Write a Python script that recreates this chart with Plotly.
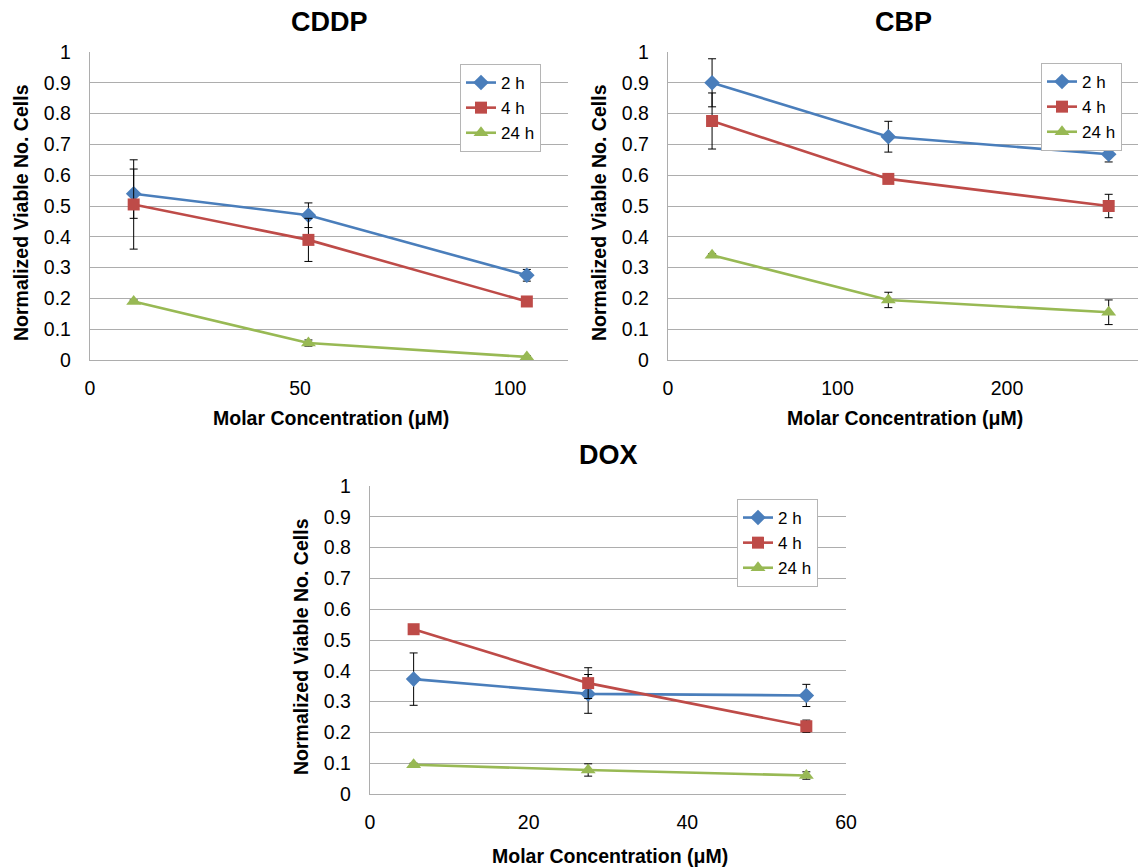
import plotly.graph_objects as go

# ---- data -------------------------------------------------------------
series_names = ["2 h", "4 h", "24 h"]

cddp_conc = [10.4, 52, 104]
cddp_2h = [0.54, 0.47, 0.275]
cddp_2h_err = [0.08, 0.04, 0.019]
cddp_4h = [0.505, 0.39, 0.19]
cddp_4h_err = [0.145, 0.07, 0.008]
cddp_24h = [0.19, 0.055, 0.01]
cddp_24h_err = [0.005, 0.01, 0.004]

cbp_conc = [26, 130, 260]
cbp_2h = [0.90, 0.725, 0.668]
cbp_2h_err = [0.078, 0.05, 0.025]
cbp_4h = [0.776, 0.588, 0.50]
cbp_4h_err = [0.091, 0.01, 0.038]
cbp_24h = [0.34, 0.195, 0.155]
cbp_24h_err = [0.005, 0.025, 0.04]

dox_conc = [5.5, 27.5, 55]
dox_2h = [0.373, 0.325, 0.32]
dox_2h_err = [0.085, 0.063, 0.036]
dox_4h = [0.535, 0.36, 0.22]
dox_4h_err = [0.006, 0.05, 0.02]
dox_24h = [0.095, 0.078, 0.06]
dox_24h_err = [0.005, 0.02, 0.012]

y_ticks = [0, 0.1, 0.2, 0.3, 0.4, 0.5, 0.6, 0.7, 0.8, 0.9, 1]

# ---- styling ----------------------------------------------------------
W, H = 1138, 867
FONT = "Liberation Sans, Arial, sans-serif"
COLORS = ["#4A7EBB", "#BE4B48", "#98B954"]
SYMBOLS = ["diamond", "square", "triangle-up"]
MSIZE = [12, 12, 13]
GRID = "#ADADAD"

def px_x(v):
    return v / W

def px_y(v):
    return 1 - v / H

panels = [
    dict(name="CDDP", conc=cddp_conc,
         ys=[cddp_2h, cddp_4h, cddp_24h], errs=[cddp_2h_err, cddp_4h_err, cddp_24h_err],
         left=90, right=568, top=52, bottom=360, xmax=113.8, dtick=50,
         legend=(460, 64), cx=329, title_y=22, xtitle_y=418),
    dict(name="CBP", conc=cbp_conc,
         ys=[cbp_2h, cbp_4h, cbp_24h], errs=[cbp_2h_err, cbp_4h_err, cbp_24h_err],
         left=668, right=1138, top=52, bottom=360, xmax=277.3, dtick=100,
         legend=(1041, 63), cx=903, title_y=22, xtitle_y=418),
    dict(name="DOX", conc=dox_conc,
         ys=[dox_2h, dox_4h, dox_24h], errs=[dox_2h_err, dox_4h_err, dox_24h_err],
         left=370, right=846, top=486, bottom=794, xmax=60, dtick=20,
         legend=(737, 499), cx=608, title_y=455, xtitle_y=856),
]

fig = go.Figure()
layout = dict(
    width=W, height=H,
    margin=dict(l=0, r=0, t=0, b=0, autoexpand=False),
    paper_bgcolor="white", plot_bgcolor="white",
    font=dict(family=FONT, color="black"),
    showlegend=True,
)
annotations = []

for i, p in enumerate(panels):
    k = "" if i == 0 else str(i + 1)
    xa, ya = "x" + k, "y" + k
    leg = "legend" + k
    for j in range(3):
        fig.add_trace(go.Scatter(
            x=p["conc"], y=p["ys"][j], name=series_names[j],
            xaxis=xa, yaxis=ya, legend=leg,
            mode="lines+markers",
            line=dict(color=COLORS[j], width=2.6),
            marker=dict(symbol=SYMBOLS[j], size=MSIZE[j], color=COLORS[j],
                        line=dict(width=0)),
            error_y=dict(type="data", array=p["errs"][j], visible=True,
                         color="black", thickness=1, width=4),
            cliponaxis=False,
        ))
    layout["xaxis" + k] = dict(
        domain=[px_x(p["left"]), px_x(p["right"])],
        anchor=ya, range=[0, p["xmax"]], dtick=p["dtick"], tick0=0,
        showgrid=False, zeroline=False,
        showline=True, linecolor=GRID, linewidth=1.3,
        ticks="", ticklabelstandoff=10,
        tickfont=dict(size=19.5, family=FONT, color="black"),
    )
    layout["yaxis" + k] = dict(
        domain=[px_y(p["bottom"]), px_y(p["top"])],
        anchor=xa, range=[0, 1], tickvals=y_ticks,
        ticktext=[f"{v:g}" for v in y_ticks],
        showgrid=True, gridcolor=GRID, gridwidth=1.3, zeroline=False,
        showline=True, linecolor=GRID, linewidth=1.3,
        ticks="", ticklabelstandoff=14,
        tickfont=dict(size=19.5, family=FONT, color="black"),
    )
    lx, ly = p["legend"]
    layout[leg] = dict(
        x=px_x(lx), y=px_y(ly), xanchor="left", yanchor="top",
        xref="paper", yref="paper",
        bgcolor="white", bordercolor="#B5B5B5", borderwidth=1,
        font=dict(size=17, family=FONT, color="black"),
        tracegroupgap=0, itemwidth=30,
    )
    # panel title
    annotations.append(dict(
        text="<b>%s</b>" % p["name"], x=px_x(p["cx"]), y=px_y(p["title_y"]),
        xref="paper", yref="paper", showarrow=False,
        font=dict(size=27, family=FONT, color="black"),
        xanchor="center", yanchor="middle",
    ))
    # x axis title
    annotations.append(dict(
        text="<b>Molar Concentration (μM)</b>", x=px_x(p["cx"] + 2),
        y=px_y(p["xtitle_y"]),
        xref="paper", yref="paper", showarrow=False,
        font=dict(size=19.5, family=FONT, color="black"),
        xanchor="center", yanchor="middle",
    ))
    # y axis title
    annotations.append(dict(
        text="<b>Normalized Viable No. Cells</b>", textangle=-90,
        x=px_x(p["left"] - 69), y=px_y((p["top"] + p["bottom"]) / 2 + 7),
        xref="paper", yref="paper", showarrow=False,
        font=dict(size=19.5, family=FONT, color="black"),
        xanchor="center", yanchor="middle",
    ))

layout["annotations"] = annotations
fig.update_layout(**layout)
fig.write_html("out.html")
